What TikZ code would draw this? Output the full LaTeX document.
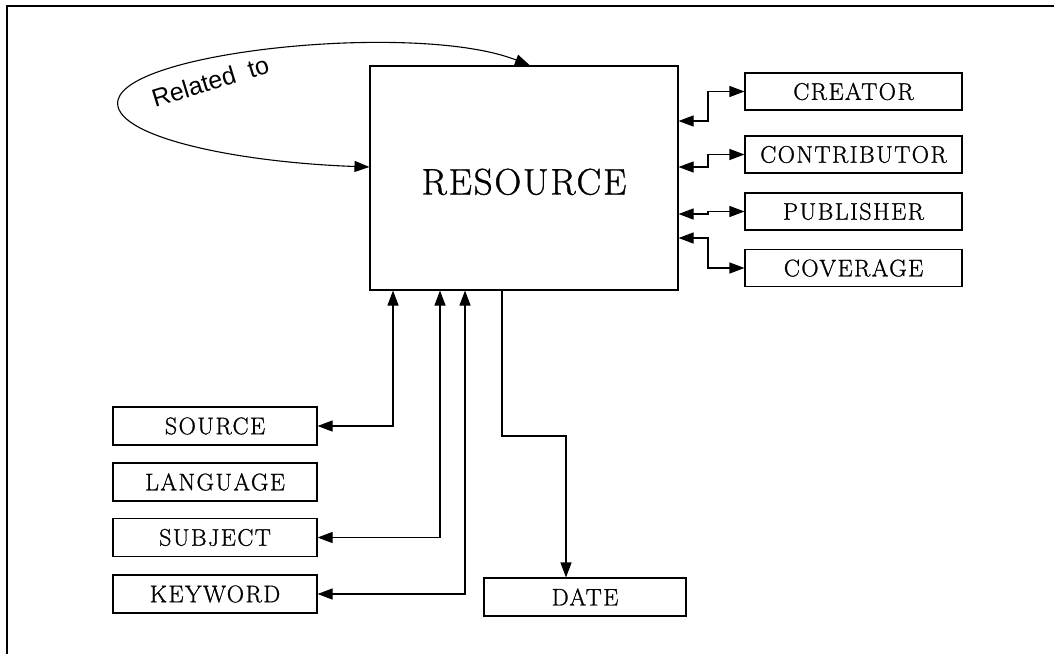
\documentclass[tikz,border=0pt]{standalone}
\usepackage{fontspec}
\setmainfont{Latin Modern Roman}
\newfontfamily\lblfont[LetterSpace=6,FakeBold=1]{Latin Modern Roman}
\newfontfamily\resfont[LetterSpace=5,FakeBold=1]{Latin Modern Roman}
\newfontfamily\relfont{Liberation Sans}
\usetikzlibrary{arrows.meta}
\tikzset{
  box/.style={draw, line width=1.1pt, minimum width=217pt, minimum height=37pt, inner sep=0pt,
    font=\lblfont\fontsize{24}{28}\selectfont},
  conn/.style={line width=1.1pt, {Triangle[length=15pt,width=11pt]}-{Triangle[length=15pt,width=11pt]}},
  oneway/.style={line width=1.1pt, -{Triangle[length=15pt,width=11pt]}},
}
\begin{document}
\begin{tikzpicture}[x=1pt,y=-1pt]
\useasboundingbox (0,0) rectangle (1054,654);
% frame (only left and top edges visible)
\draw[line width=1.6pt] (1054,6) -- (7,6) -- (7,654);

% central box
\node[draw, line width=1.1pt, minimum width=308pt, minimum height=224pt, inner sep=0pt,
      text height=33pt, text depth=0pt,
      font=\resfont\fontsize{37}{44}\selectfont] (res) at (524,178) {RESOURCE};

% right boxes
\node[box] (creator) at (853.5,91.5) {CREATOR};
\node[box] (contributor) at (853.5,154.5) {CONTRIBUTOR};
\node[box] (publisher) at (853.5,211.5) {PUBLISHER};
\node[box] (coverage) at (853.5,268) {COVERAGE};

% left boxes
\node[box, minimum width=204pt, minimum height=38pt] (source) at (215,426) {SOURCE};
\node[box, minimum width=204pt, minimum height=38pt] (language) at (215,482) {LANGUAGE};
\node[box, minimum width=204pt, minimum height=38pt] (subject) at (215,537.5) {SUBJECT};
\node[box, minimum width=204pt, minimum height=38pt] (keyword) at (215,594) {KEYWORD};

% date
\node[box, minimum width=202pt, minimum height=38pt] (date) at (585,597) {DATE};

% right connectors
\draw[conn] (res.east |- 0,121) -- (708,121) |- (creator.west);
\draw[conn] (res.east |- 0,167) -- (708,167) |- (contributor.west);
\draw[conn] (res.east |- 0,214) -- (708,214) |- (publisher.west);
\draw[conn] (res.east |- 0,238) -- (708,238) |- (coverage.west);

% bottom-left connectors
\draw[conn] (res.south -| 393,0) |- (source.east);
\draw[conn] (res.south -| 440,0) |- (subject.east);
\draw[conn] (res.south -| 465,0) |- (keyword.east);

% date connector
\draw[oneway] (res.south -| 502,0) |- (566,436) -- (date.north -| 566,0);

% self loop
\draw[conn] (res.west |- 0,167) .. controls (230,162) and (110,135) .. (118,100)
  .. controls (130,50) and (420,22) .. (res.north -| 530,0);
\node[font=\relfont\fontsize{25}{29}\selectfont, rotate=17, anchor=base] (rel) at (213,90) {Related\ \ to};
\end{tikzpicture}
\end{document}
